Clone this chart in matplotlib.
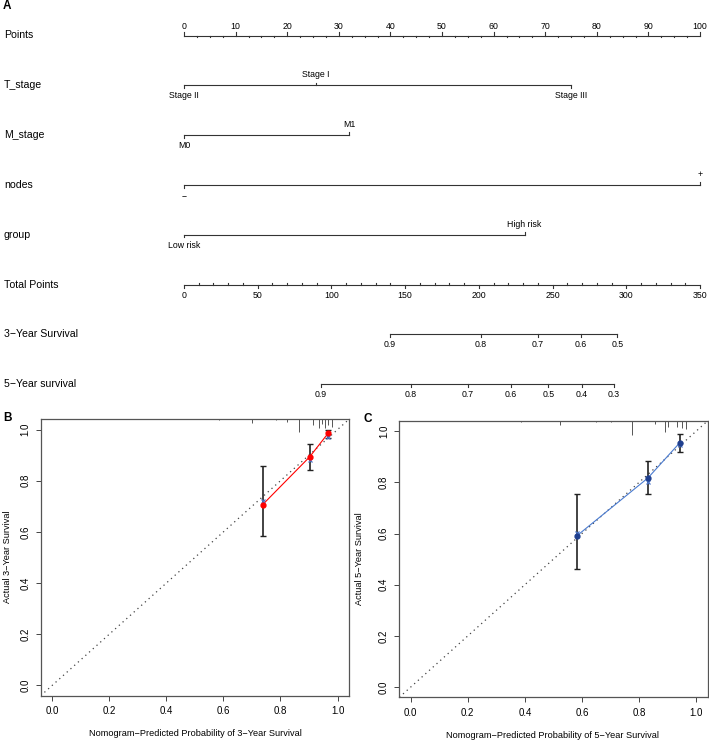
import matplotlib
matplotlib.use('Agg')
import matplotlib.pyplot as plt
import matplotlib.transforms as mtransforms
import numpy as np

plt.rcParams['font.family'] = ['Liberation Sans', 'DejaVu Sans']

# --- nomogram data (points scale 0-100, total points 0-350) ---
row_names = ['Points', 'T_stage', 'M_stage', 'nodes', 'group',
             'Total Points', '3\u2212Year Survival', '5\u2212Year survival']
t_stage_levels = ['Stage II', 'Stage I', 'Stage III']
t_stage_points = [0, 25.6, 75]
m_stage_levels = ['M0', 'M1']
m_stage_points = [0, 32]
nodes_levels = ['\u2212', '+']
nodes_points = [0, 100]
group_levels = ['Low risk', 'High risk']
group_points = [0, 66]
points_major = np.arange(0, 101, 10)
points_minor = np.arange(0, 101, 2.5)
total_major = np.arange(0, 351, 50)
total_minor = np.arange(0, 351, 10)
total_max = 350
surv3_labels = [0.9, 0.8, 0.7, 0.6, 0.5]
surv3_total = [139.7, 201.3, 239.9, 269.1, 293.9]
surv5_labels = [0.9, 0.8, 0.7, 0.6, 0.5, 0.4, 0.3]
surv5_total = [92.7, 154.0, 192.4, 221.6, 247.1, 269.8, 291.7]

# --- calibration data ---
cal3_pred = [0.737, 0.902, 0.968]
cal3_obs = [0.706, 0.893, 0.987]
cal3_lo = [0.585, 0.843, 0.967]
cal3_hi = [0.856, 0.944, 1.0]
cal3_corr = [0.722, 0.882, 0.971]
rug3_x = [0.584, 0.699, 0.786, 0.824, 0.866, 0.915, 0.936, 0.944, 0.956, 0.968, 0.979]
rug3_n = [1, 4, 1, 3, 13, 6, 9, 5, 9, 6, 8]

cal5_pred = [0.583, 0.831, 0.942]
cal5_obs = [0.592, 0.817, 0.954]
cal5_lo = [0.462, 0.755, 0.919]
cal5_hi = [0.755, 0.882, 0.991]
cal5_corr = [0.603, 0.802, 0.946]
rug5_x = [0.386, 0.524, 0.649, 0.703, 0.775, 0.856, 0.891, 0.902, 0.932, 0.951, 0.965]
rug5_n = [1, 4, 1, 1, 14, 3, 11, 6, 6, 7, 8]

W, H = 709, 741
fig = plt.figure(figsize=(W / 100, H / 100), dpi=100)


def fx(px):
    return px / W


def fy(py):
    return 1 - py / H


LINE = '#333333'
ROW0, ROWSTEP = 35.5, 49.8


def prow(px):
    return px / ROWSTEP


# --- A: NOMOGRAM ---
ax = fig.add_axes([fx(184), fy(400), fx(516), 400 / H])
ax.set_xlim(0, 100)
ax.set_ylim((400 - ROW0) / ROWSTEP, -ROW0 / ROWSTEP)
ax.axis('off')
lab_tr = mtransforms.blended_transform_factory(fig.transFigure, ax.transData)
for i, name in enumerate(row_names):
    ax.text(fx(4), i, name, transform=lab_tr, fontsize=7.6, va='center', ha='left')

tk, tkm, off = prow(3.5), prow(1.8), prow(10.5)
txt = dict(fontsize=6.3, ha='center', va='center', clip_on=False)
lkw = dict(color=LINE, lw=0.8, clip_on=False)

# Points axis
ax.plot([0, 100], [0, 0], **lkw)
for v in points_minor:
    if v % 10:
        ax.plot([v, v], [0, tkm], **lkw)
for v in points_major:
    ax.plot([v, v], [0, -tk], **lkw)
    ax.text(v, -prow(9), f'{v:g}', **txt)

# categorical variables
for i, (levels, pts) in enumerate([(t_stage_levels, t_stage_points),
                                     (m_stage_levels, m_stage_points),
                                     (nodes_levels, nodes_points),
                                     (group_levels, group_points)], start=1):
    ax.plot([min(pts), max(pts)], [i, i], **lkw)
    order = np.argsort(pts)
    for k, j in enumerate(order):
        s = -1 if k % 2 else 1
        ax.plot([pts[j], pts[j]], [i, i + s * tk * 0.8], **lkw)
        ax.text(pts[j], i + s * off, levels[j], **txt)

# Total points axis
sc = 100 / total_max
ax.plot([0, 100], [5, 5], **lkw)
for v in total_minor:
    if v % 50:
        ax.plot([v * sc, v * sc], [5, 5 - tkm], **lkw)
for v in total_major:
    ax.plot([v * sc, v * sc], [5, 5 + tk], **lkw)
    ax.text(v * sc, 5 + prow(11.5), f'{v:g}', **txt)

# survival axes
for i, (labs, tot) in enumerate([(surv3_labels, surv3_total),
                                  (surv5_labels, surv5_total)], start=6):
    xs = [t * sc for t in tot]
    ax.plot([min(xs), max(xs)], [i, i], **lkw)
    for x, l in zip(xs, labs):
        ax.plot([x, x], [i, i + tk * 0.8], **lkw)
        ax.text(x, i + off, f'{l:g}', **txt)

fig.text(fx(3), fy(6), 'A', fontsize=8.5, fontweight='bold', va='center', ha='left')


# --- B / C: CALIBRATION ---
def calib(rect, pred, obs, lo, hi, corr, rx, rn, lcol, pcol, xcol):
    a = fig.add_axes(rect)
    a.set_xlim(-0.04, 1.04)
    a.set_ylim(-0.04, 1.04)
    a.plot([-0.04, 1.04], [-0.04, 1.04], color='#444444', ls=(0, (1, 3)), lw=0.9)
    a.vlines(rx, [1.04 - 0.0039 * n for n in rn], 1.04, color='#555555', lw=0.7)
    a.errorbar(pred, obs, yerr=[np.subtract(obs, lo), np.subtract(hi, obs)],
               fmt='none', ecolor='#222222', elinewidth=1.2, capsize=2.5, capthick=1.0, zorder=3)
    a.plot(pred, obs, color=lcol, lw=0.8, zorder=4)
    a.plot(pred, corr, ls='none', marker='x', ms=3, mew=0.9, color=xcol, zorder=4)
    a.plot(pred, obs, ls='none', marker='o', ms=3.5, color=pcol, zorder=5)
    ticks = [0, 0.2, 0.4, 0.6, 0.8, 1.0]
    a.set_xticks(ticks, [f'{t:.1f}' for t in ticks])
    a.set_yticks(ticks, [f'{t:.1f}' for t in ticks])
    a.tick_params(labelsize=7, length=3.5, width=0.7, color='#444444', pad=4)
    for lab in a.get_yticklabels():
        lab.set_rotation(90)
        lab.set_va('center')
    for s in a.spines.values():
        s.set_color('#555555')
        s.set_linewidth(0.9)
    return a


axB = calib([fx(40.7), fy(695.7), fx(349 - 40.7), (695.7 - 419.3) / H],
            cal3_pred, cal3_obs, cal3_lo, cal3_hi, cal3_corr, rug3_x, rug3_n,
            'red', 'red', '#4a74c9')
axC = calib([fx(399.3), fy(697.3), fx(707.5 - 399.3), (697.3 - 421) / H],
            cal5_pred, cal5_obs, cal5_lo, cal5_hi, cal5_corr, rug5_x, rug5_n,
            '#4a7bd0', '#1f3f8f', '#4a74c9')

fig.text(fx(195), fy(734), 'Nomogram\u2212Predicted Probability of 3\u2212Year Survival',
         fontsize=6.6, ha='center', va='center')
fig.text(fx(553), fy(736), 'Nomogram\u2212Predicted Probability of 5\u2212Year Survival',
         fontsize=6.6, ha='center', va='center')
fig.text(fx(8), fy(557), 'Actual 3\u2212Year Survival', fontsize=6.6, rotation=90,
         ha='center', va='center')
fig.text(fx(359), fy(559), 'Actual 5\u2212Year Survival', fontsize=6.6, rotation=90,
         ha='center', va='center')
fig.text(fx(3), fy(418), 'B', fontsize=8.5, fontweight='bold', va='center', ha='left')
fig.text(fx(363), fy(419), 'C', fontsize=8.5, fontweight='bold', va='center', ha='left')

fig.savefig('out.png', dpi=100)
